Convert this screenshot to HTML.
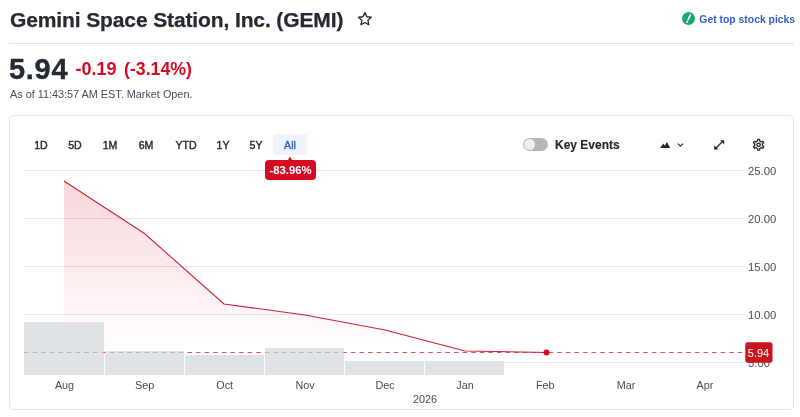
<!DOCTYPE html>
<html><head><meta charset="utf-8">
<style>
*{box-sizing:border-box;margin:0;padding:0}
html,body{width:800px;height:417px;background:#fff;overflow:hidden}
body{font-family:"Liberation Sans",sans-serif;color:#232a31;position:relative}
.abs{position:absolute;white-space:nowrap}
#title{left:10px;top:6px;font-size:21px;font-weight:700;line-height:28px;color:#232a31;letter-spacing:-0.12px;-webkit-text-stroke:0.25px #232a31}
#picks{left:699.3px;top:12.8px;font-size:10.4px;font-weight:700;color:#3461c1;line-height:14px}
#hr{left:9px;top:43px;width:785px;height:1px;background:#e1e3e5}
#price{left:9px;top:52px;letter-spacing:0.7px;-webkit-text-stroke:0.35px #232a31;font-size:29px;font-weight:700;line-height:34px;color:#232a31}
#chg{left:75.5px;top:57px;font-size:18px;font-weight:700;line-height:24px;color:#d60a22}
#asof{left:10px;top:86.5px;font-size:10.85px;line-height:14px;color:#464e56}
#card{left:9px;top:115px;width:785px;height:295px;border:1px solid #e2e4e7;border-radius:5px;background:#fff}
.rb{font-size:10.6px;line-height:14px;top:137.5px;color:#232a31;font-weight:400;-webkit-text-stroke:0.4px currentColor;transform:translateX(-50%)}
#allbg{left:273px;top:134px;width:34px;height:21px;background:#eff4fc;border-radius:3px}
#badge{left:265px;top:160px;width:51px;height:20px;background:#d60a22;border-radius:4px;color:#fff;font-size:11.3px;font-weight:700;line-height:21px;text-align:center}
#ke{left:555px;top:137.2px;-webkit-text-stroke:0.15px #232a31;font-size:12px;font-weight:700;line-height:16px;color:#232a31}
#tog{left:523px;top:138px;width:25px;height:13px;border-radius:7px;background:#b3b7bb}
#tog i{position:absolute;left:1px;top:1px;width:11px;height:11px;border-radius:50%;background:#eceef0}
</style></head><body>
<div class="abs" id="title">Gemini Space Station, Inc. (GEMI)</div>
<svg class="abs" style="left:355.900px;top:9.500px" width="17.800" height="17.800" viewBox="0 0 24 24"><path d="M12 3.5l2.6 5.6 6 .7-4.5 4.1 1.2 6-5.3-3-5.3 3 1.2-6L3.400 9.800l6-.7z" fill="none" stroke="#232a31" stroke-width="1.8" stroke-linejoin="round"/></svg>
<svg class="abs" style="left:681.900px;top:12.100px" width="13" height="13" viewBox="0 0 13 13"><circle cx="6.500" cy="6.500" r="6.500" fill="#1ba672"/><path d="M8.300 3L6.100 7.500" stroke="#fff" stroke-width="1.700" stroke-linecap="round"/><circle cx="5.200" cy="9.800" r="0.950" fill="#fff"/></svg>
<div class="abs" id="picks">Get top stock picks</div>
<div class="abs" id="hr"></div>
<div class="abs" id="price">5.94</div>
<div class="abs" id="chg">-0.19<span style="margin-left:7.5px;font-size:17.7px">(-3.14%)</span></div>
<div class="abs" id="asof">As of 11:43:57 AM EST. Market Open.</div>
<div class="abs" id="card"></div>
<div class="abs" id="allbg"></div>
<div class="abs rb" style="left:41px">1D</div>
<div class="abs rb" style="left:75px">5D</div>
<div class="abs rb" style="left:110px">1M</div>
<div class="abs rb" style="left:146px">6M</div>
<div class="abs rb" style="left:186px">YTD</div>
<div class="abs rb" style="left:223px">1Y</div>
<div class="abs rb" style="left:256px">5Y</div>
<div class="abs rb" style="left:290px;color:#3262c4">All</div>
<svg class="abs" style="left:655px;top:135px" width="115" height="20" viewBox="655 135 115 20">
<path d="M660 147.900L663.200 143.600 664.900 145.500 666.900 142 670.300 147.900z" fill="#232a31"/>
<path d="M677.800 143.600L680.400 146.200 683 143.600" fill="none" stroke="#232a31" stroke-width="1.200"/>
<path d="M715.300 148.700L723 141" stroke="#232a31" stroke-width="1.300" fill="none"/>
<path d="M720 140.200H724.200V144.400zM714.200 145.300V149.500H718.400z" fill="#232a31"/>
<g transform="translate(758.600 144.750)" fill="none" stroke="#232a31" stroke-width="1.350" stroke-linejoin="round">
<circle r="1.700"/>
<path d="M-0.86 -5.43 L0.86 -5.43 L1.21 -3.71 L2.61 -2.90 L4.27 -3.46 L5.13 -1.97 L3.81 -0.81 L3.81 0.81 L5.13 1.97 L4.27 3.46 L2.61 2.90 L1.21 3.71 L0.86 5.43 L-0.86 5.43 L-1.21 3.71 L-2.61 2.90 L-4.27 3.46 L-5.13 1.97 L-3.81 0.81 L-3.81 -0.81 L-5.13 -1.97 L-4.27 -3.46 L-2.61 -2.90 L-1.21 -3.71z"/>
</g>
</svg>
<div class="abs" id="tog"><i></i></div>
<div class="abs" id="ke">Key Events</div>
<svg class="abs" style="left:0;top:0" width="800" height="417" viewBox="0 0 800 417">
<defs><linearGradient id="g" gradientUnits="userSpaceOnUse" x1="0" y1="178" x2="0" y2="350"><stop offset="0" stop-color="#d60a22" stop-opacity="0.17"/><stop offset="1" stop-color="#d60a22" stop-opacity="0"/></linearGradient>
<clipPath id="bc"><rect x="24" y="322" width="80" height="53"/><rect x="105" y="351" width="79" height="24"/><rect x="185" y="355" width="79" height="20"/><rect x="265" y="348" width="79" height="27"/><rect x="345" y="361" width="79" height="14"/><rect x="425" y="361" width="79" height="14"/></clipPath></defs>
<g stroke="#e6e7e9" stroke-width="1">
<path d="M24 170.500H744M24 218.500H744M24 266.500H744M24 314.500H744M24 362.500H744"/>
</g>
<path d="M64 181L144.500 233.500 224 304 305 315 385 330 465 351 546.500 352.500V374.500H64z" fill="url(#g)"/>
<path d="M24 352.500H745" stroke="#d60a22" stroke-width="1" stroke-dasharray="4.600 4" opacity="0.7"/>
<g fill="#e0e3e6">
<rect x="24" y="322" width="80" height="53"/>
<rect x="105" y="351" width="79" height="24"/>
<rect x="185" y="355" width="79" height="20"/>
<rect x="265" y="348" width="79" height="27"/>
<rect x="345" y="361" width="79" height="14"/>
<rect x="425" y="361" width="79" height="14"/>
</g>
<path d="M24 352.500H745" stroke="#b9b4b8" stroke-width="1" stroke-dasharray="4.600 4" clip-path="url(#bc)"/>
<path d="M64 181L144.500 233.500 224 304 305 315 385 330 465 351 546.500 352.500" fill="none" stroke="#cb2236" stroke-width="1.050" stroke-linejoin="round"/>
<circle cx="546.500" cy="352.500" r="3" fill="#d60a22"/>
<text x="748" y="366.600" font-family="Liberation Sans, sans-serif" font-size="11.300" fill="#464e56">5.00</text>
<rect x="745.300" y="342.200" width="27.200" height="20.500" rx="2.500" fill="#c8161f"/>
<g font-family="Liberation Sans, sans-serif" font-size="11.300" fill="#464e56">
<text x="748" y="174.600">25.00</text><text x="748" y="222.600">20.00</text><text x="748" y="270.600">15.00</text><text x="748" y="318.600">10.00</text>
<text x="758.500" y="357" fill="#fff" text-anchor="middle" font-size="11">5.94</text>
<g text-anchor="middle" font-size="10.800">
<text x="64.500" y="389">Aug</text><text x="144.600" y="389">Sep</text><text x="224.700" y="389">Oct</text><text x="305" y="389">Nov</text><text x="385" y="389">Dec</text><text x="465" y="389">Jan</text><text x="545.300" y="389">Feb</text><text x="626" y="389">Mar</text><text x="705" y="389">Apr</text><text x="425" y="403">2026</text>
</g></g>
</svg>
<svg class="abs" style="left:286px;top:156px" width="8" height="5" viewBox="0 0 8 5"><path d="M1.800 5L4 1 6.200 5z" fill="#d60a22" stroke="#d60a22" stroke-width="0.600" stroke-linejoin="round"/></svg>
<div class="abs" id="badge">-83.96%</div>
</body></html>
